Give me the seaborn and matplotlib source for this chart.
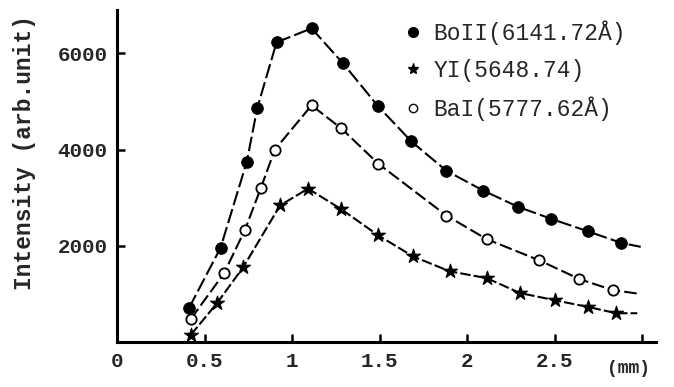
import pandas as pd
import seaborn as sns
from matplotlib import pyplot as plt
from matplotlib.lines import Line2D

# distance from target (mm) and intensity (arb. unit)
bo_x = [0.41, 0.59, 0.74, 0.80, 0.91, 1.11, 1.29, 1.49, 1.68, 1.88, 2.09, 2.29, 2.48, 2.69, 2.88]
bo_y = [710, 1960, 3750, 4870, 6230, 6520, 5790, 4900, 4170, 3560, 3150, 2810, 2560, 2300, 2060]
y_x = [0.42, 0.57, 0.72, 0.93, 1.09, 1.28, 1.49, 1.69, 1.90, 2.11, 2.30, 2.50, 2.69, 2.85]
y_y = [150, 810, 1560, 2840, 3190, 2760, 2220, 1780, 1470, 1330, 1020, 870, 730, 600]
ba_x = [0.42, 0.61, 0.73, 0.82, 0.90, 1.11, 1.28, 1.49, 1.88, 2.11, 2.41, 2.64, 2.83]
ba_y = [480, 1430, 2340, 3200, 4000, 4920, 4440, 3710, 2630, 2140, 1700, 1310, 1080]
# where each drawn curve stops past its last point
tail_x = [2.99, 2.97, 2.99]
tail_y = [1980, 600, 1000]

labels = ["BoII(6141.72\u00c5)", "YI(5648.74)", "BaI(5777.62\u00c5)"]
xticks = [0, 0.5, 1, 1.5, 2, 2.5, 3]
xticklabels = ["0", "0.5", "1", "1.5", "2", "2.5", ""]
yticks = [2000, 4000, 6000]

sns.set_style("white")
plt.rcParams["font.family"] = ["Liberation Mono", "DejaVu Sans Mono"]

fig = plt.figure(figsize=(6.74, 3.87), dpi=100)
ax = fig.add_axes([0.174, 0.116, 0.80, 0.858])

series = [
    (bo_x, bo_y, dict(marker="o", s=70, color="black", edgecolor="black"), (7, 2)),
    (y_x, y_y, dict(marker="*", s=110, color="black", edgecolor="black"), (5, 1.5)),
    (ba_x, ba_y, dict(marker="o", s=55, facecolor="white", edgecolor="black", linewidth=1.3), (6, 2)),
]
for (xs, ys, mk, dash), tx, ty in zip(series, tail_x, tail_y):
    df = pd.DataFrame({"x": xs + [tx], "y": ys + [ty]})
    sns.lineplot(df, x="x", y="y", ax=ax, color="black", linewidth=1.5,
                 dashes=False, sort=False)
    ax.lines[-1].set_dashes(dash)
    pts = pd.DataFrame({"x": xs, "y": ys})
    sns.scatterplot(pts, x="x", y="y", ax=ax, zorder=3, **mk)

ax.set(xlim=(0, 3.08), ylim=(0, 6900), xlabel="", ylabel="")
ax.set_xticks(xticks, xticklabels)
ax.set_yticks(yticks, [str(v) for v in yticks])
ax.tick_params(bottom=True, left=True, direction="in", length=6, width=1.8,
               labelsize=15, pad=7, color="black")
for t in ax.get_xticklabels() + ax.get_yticklabels():
    t.set_fontweight("bold")
ax.spines[["top", "right"]].set_visible(False)
for s in ["left", "bottom"]:
    ax.spines[s].set_linewidth(2.2)
    ax.spines[s].set_color("black")
ax.set_ylabel("Intensity (arb.unit)", fontsize=16.5, fontweight="bold")
ax.yaxis.set_label_coords(-0.15, 0.57)
ax.text(2.92, -0.08, "(mm)", transform=ax.get_xaxis_transform(),
        ha="center", va="center", fontsize=13, fontweight="bold")

handles = [
    Line2D([], [], marker="o", ls="", color="black", markersize=7),
    Line2D([], [], marker="*", ls="", color="black", markersize=8),
    Line2D([], [], marker="o", ls="", markerfacecolor="white",
           markeredgecolor="black", markersize=6),
]
ax.legend(handles, labels, loc="upper right", bbox_to_anchor=(0.982, 1.03),
          frameon=False, fontsize=16.5, handlelength=0.8, handletextpad=0.5,
          labelspacing=0.62)

fig.savefig("out.png", dpi=100)
